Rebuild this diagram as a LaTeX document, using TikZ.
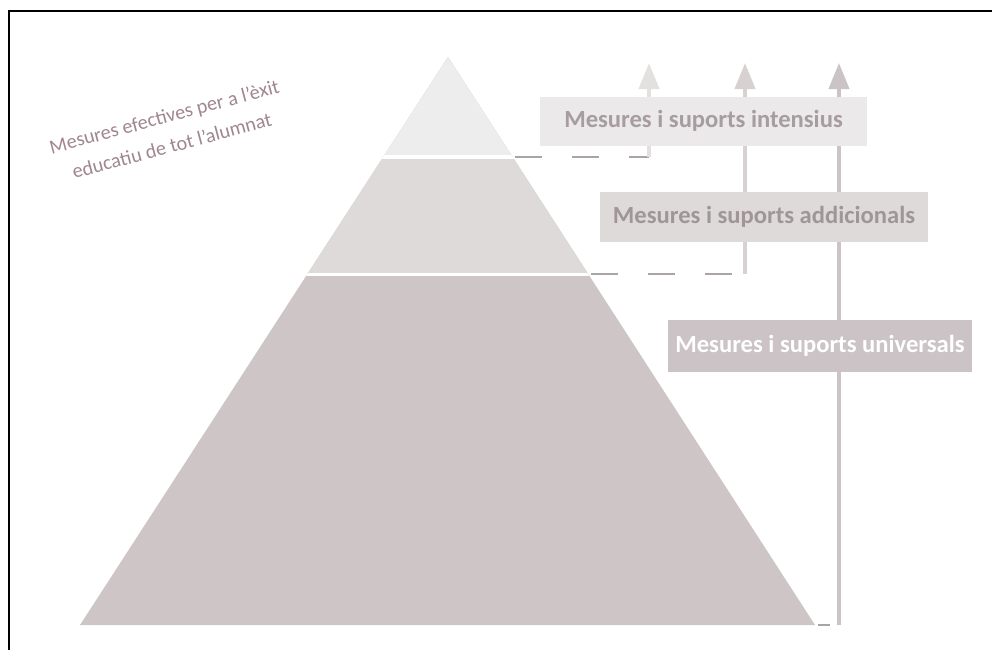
\documentclass[tikz,border=0pt]{standalone}
\usepackage{fontspec}
\setmainfont{Carlito}
\usetikzlibrary{arrows.meta,positioning}
\definecolor{tierA}{HTML}{EEEDED}
\definecolor{tierB}{HTML}{DEDADA}
\definecolor{tierC}{HTML}{CDC5C6}
\definecolor{arrowA}{HTML}{E3E0E0}
\definecolor{arrowB}{HTML}{D7D1D2}
\definecolor{arrowC}{HTML}{CBC3C5}
\definecolor{boxA}{HTML}{EBE9E9}
\definecolor{boxB}{HTML}{DEDADA}
\definecolor{boxC}{HTML}{CBC3C5}
\definecolor{inkA}{HTML}{A79CA0}
\definecolor{inkB}{HTML}{A0969A}
\definecolor{title}{HTML}{A0878E}
\definecolor{dashgray}{HTML}{ABA4A6}

\begin{document}
\begin{tikzpicture}[x=0.02cm,y=-0.02cm,>={Triangle[length=0.52cm,width=0.4cm]},
  box/.style={minimum height=0.98cm,inner sep=0pt,font=\bfseries\fontsize{14}{16}\selectfont},
  up/.style={->,line width=2.3pt},
  lvl/.style={draw=dashgray,line width=0.9pt,dash pattern=on 0.54cm off 0.6cm}]
  \useasboundingbox (0,0) rectangle (992,650);
  \draw[line width=1.4pt] (9,650) -- (9,11) -- (992,11);

  % pyramid
  \fill[tierC] (448,57) -- (815,625) -- (80,625) -- cycle;
  \begin{scope}
    \clip (448,57) -- (815,625) -- (80,625) -- cycle;
    \fill[tierB] (0,0) rectangle (992,274.5);
    \fill[tierA] (0,0) rectangle (992,157);
    \draw[white,line width=2pt] (0,157) -- (992,157) (0,274.5) -- (992,274.5);
  \end{scope}

  \node[title,rotate=15,align=center,font=\fontsize{11.5}{17}\selectfont] (t_0) at (168,131)
    {Mesures efectives per a l’èxit\\educatiu de tot l’alumnat};

  \coordinate (d_1) at (515,157);  \coordinate (s_1) at (649,157);  \coordinate (e_1) at (649,63);
  \coordinate (d_2) at (591,274);  \coordinate (s_2) at (745,274);  \coordinate (e_2) at (745,63);
  \coordinate (d_3) at (818,625);  \coordinate (s_3) at (839,625);  \coordinate (e_3) at (839,63);

  \draw[lvl] (d_1) -- (s_1);
  \draw[lvl] (d_2) -- (s_2);
  \draw[lvl,shorten >=0.18cm] (d_3) -- (s_3);
  \draw[up,arrowA] (s_1) -- (e_1);
  \draw[up,arrowB] (s_2) -- (e_2);
  \draw[up,arrowC] (s_3) -- (e_3);

  \node[box,fill=boxA,text=inkA,minimum width=6.54cm] (m_1) at (703.5,121) {Mesures i suports intensius};
  \node[box,fill=boxB,text=inkB,minimum width=6.56cm,minimum height=1cm] (m_2) at (764,217) {Mesures i suports addicionals};
  \node[box,fill=boxC,text=white,minimum width=6.08cm,minimum height=1.04cm] (m_3) at (820,346) {Mesures i suports universals};
\end{tikzpicture}
\end{document}
